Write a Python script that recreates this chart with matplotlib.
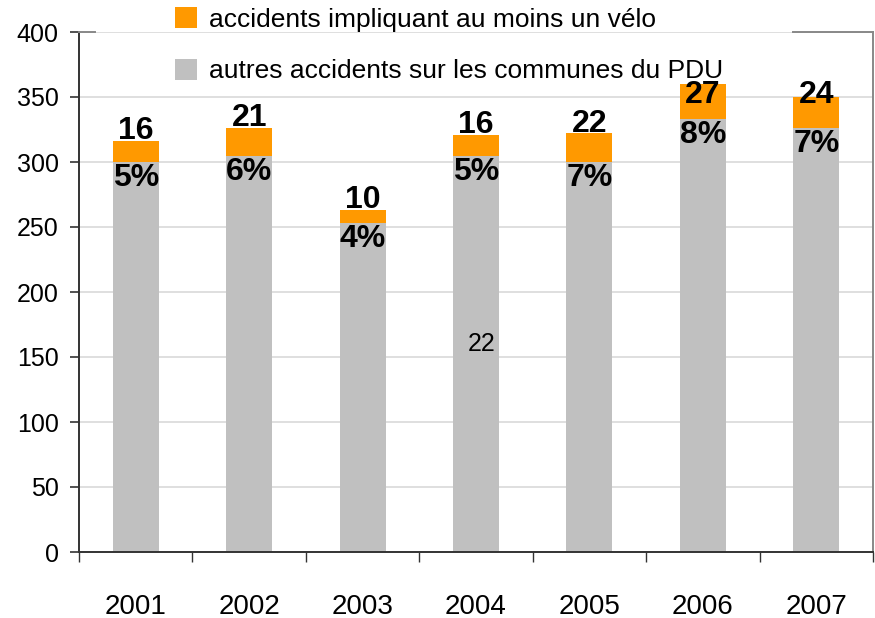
import numpy as np
import matplotlib

matplotlib.use("Agg")
import matplotlib.pyplot as plt
from matplotlib.patches import Patch

plt.rcParams["font.family"] = ["Liberation Sans", "DejaVu Sans"]

ORANGE = "#FF9900"
GRAY = "#C0C0C0"
DARK = "#333333"

years = ["2001", "2002", "2003", "2004", "2005", "2006", "2007"]
other_accidents = [300, 305, 253, 305, 300, 333, 326]
bike_accidents = [16, 21, 10, 16, 22, 27, 24]
legend_labels = ["accidents impliquant au moins un vélo",
                 "autres accidents sur les communes du PDU"]
stray_label = "22"

other = np.array(other_accidents)
bike = np.array(bike_accidents)
total = other + bike
pct = np.round(100 * bike / total).astype(int)

fig = plt.figure(figsize=(8.75, 6.18), dpi=100)
ax = fig.add_axes([79 / 875, 1 - 552 / 618, 794 / 875, 520 / 618])

x = np.arange(len(years))
w = 0.405
ax.bar(x, other, w, color=GRAY, zorder=2)
ax.bar(x, bike, w, bottom=other, color=ORANGE, zorder=2)

for i in range(len(years)):
    # counts sit on the stack, pushed down under the legend when too high
    ax.text(x[i], min(total[i], 344) - 4, str(bike[i]), ha="center", va="bottom",
            fontsize=23, fontweight="bold", zorder=7)
    ax.text(x[i], other[i] - 1, f"{pct[i]}%", ha="center", va="top",
            fontsize=23, fontweight="bold", zorder=7)

# stray label left over in the original chart
ax.text(3.05, 160, stray_label, ha="center", va="center", fontsize=18, zorder=7)

ax.set_xlim(-0.5, len(years) - 0.5)
ax.set_ylim(0, 400)
ax.set_yticks(np.arange(0, 401, 50))
ax.yaxis.grid(True, color="#D9D9D9", lw=1.2, zorder=0)
ax.set_axisbelow(True)

ax.set_xticks(x)
ax.set_xticklabels(years, fontsize=20)
ax.set_xticks(np.arange(-0.5, len(years), 1.0), minor=True)
ax.tick_params(axis="x", which="major", length=0, pad=30)
ax.tick_params(axis="x", which="minor", length=7.5, width=1, color=DARK,
               direction="out")
ax.tick_params(axis="y", labelsize=18, length=6.5, width=1.2, color=DARK,
               pad=8)

for side in ["left", "bottom"]:
    ax.spines[side].set_color(DARK)
    ax.spines[side].set_linewidth(1.4)
ax.spines["right"].set_color("#888888")
ax.spines["right"].set_linewidth(1.4)
ax.spines["top"].set_visible(False)
# plot-area border at the top, interrupted by the legend's white box
for seg in ([0.0, 0.02], [0.899, 1.0]):
    ax.plot(seg, [1, 1], transform=ax.transAxes, color="#888888", lw=1.4,
            clip_on=False, zorder=3)

handles = [Patch(facecolor=ORANGE), Patch(facecolor=GRAY)]
leg = ax.legend(handles, legend_labels, loc="upper left",
                bbox_to_anchor=(175 / 875, 1 - 7 / 618),
                bbox_transform=fig.transFigure, fontsize=19,
                frameon=False, handlelength=0.85, handleheight=0.85,
                handletextpad=0.45, labelspacing=1.02, borderpad=0.0,
                borderaxespad=0.0)
leg.set_zorder(6)

fig.savefig("out.png", dpi=100, facecolor="white")
